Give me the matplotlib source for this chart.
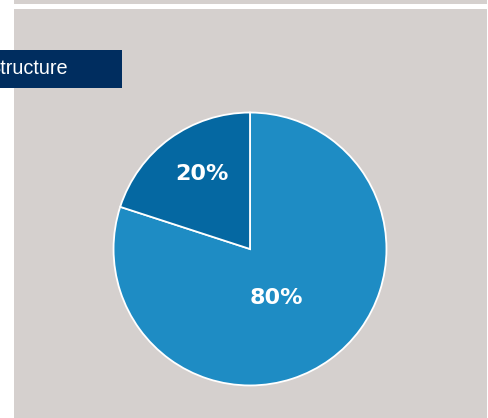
import numpy as np
import matplotlib
matplotlib.use("Agg")
import matplotlib.pyplot as plt
from matplotlib.patches import Rectangle

# Data
shares = [80, 20]
share_labels = ["80%", "20%"]
slice_colors = ["#1e8cc4", "#0568a2"]
title_text = "Structure"

W, H, DPI = 488, 418, 100
fig = plt.figure(figsize=(W / DPI, H / DPI), dpi=DPI)
fig.patch.set_facecolor("white")

panel_color = "#d5d0ce"


def fx(px):
    return px / W


def fy(py):
    return 1 - py / H


# background panel and thin top strip
fig.add_artist(Rectangle((fx(14), fy(418)), fx(487) - fx(14), fy(9) - fy(418),
                         transform=fig.transFigure, facecolor=panel_color,
                         edgecolor="none", zorder=0))
fig.add_artist(Rectangle((fx(14), fy(4)), fx(487) - fx(14), fy(0) - fy(4),
                         transform=fig.transFigure, facecolor=panel_color,
                         edgecolor="none", zorder=0))

# title tab (the tab is cut at the left edge of the figure)
fig.add_artist(Rectangle((fx(0), fy(88)), fx(122), fy(50) - fy(88),
                         transform=fig.transFigure, facecolor="#002d5f",
                         edgecolor="none", zorder=1))
fig.text(fx(68), fy(69), title_text, ha="right", va="center",
         color="white", fontsize=14.3, family="Liberation Sans", zorder=2)

# pie
cx, cy, r = 250, 249, 137
ax = fig.add_axes([fx(cx - r), fy(cy + r), 2 * r / W, 2 * r / H])
ax.set_facecolor("none")
wedges, _ = ax.pie(shares, colors=slice_colors, startangle=90,
                   counterclock=False, radius=1.0,
                   wedgeprops=dict(edgecolor="white", linewidth=1.3,
                                   clip_on=False))
lim = 1.004
ax.set_xlim(-lim, lim)
ax.set_ylim(-lim, lim)
ax.set_aspect("equal")
ax.axis("off")

# percentage labels placed inside each wedge
label_dist = [0.405, 0.655]
label_shift = [-8, -3.5]
for w, lab, d, s in zip(wedges, share_labels, label_dist, label_shift):
    ang = np.deg2rad((w.theta1 + w.theta2) / 2 + s)
    ax.text(d * np.cos(ang), d * np.sin(ang), lab, ha="center", va="center",
            color="white", fontsize=16, fontweight="bold",
            family="DejaVu Sans")

fig.savefig("out.png", dpi=DPI, facecolor=fig.get_facecolor())
